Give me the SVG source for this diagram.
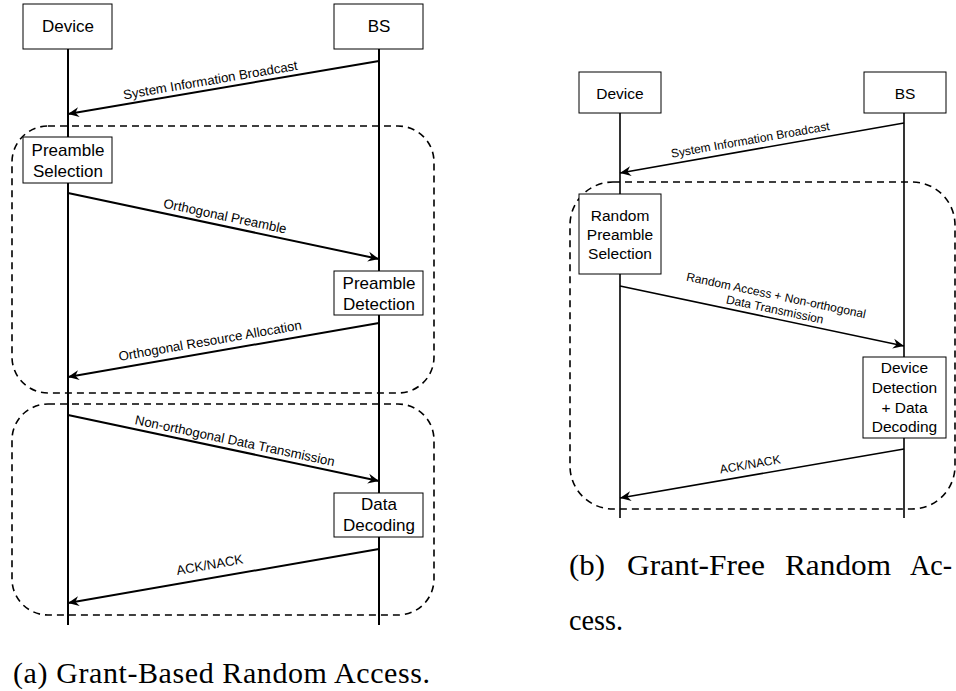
<svg xmlns="http://www.w3.org/2000/svg" width="956" height="691" viewBox="0 0 956 691">
  <style>
    .box { fill: #fff; stroke: #000; stroke-width: 1; }
    .life { stroke: #000; stroke-width: 2; fill: none; }
    .msg { stroke: #000; stroke-width: 2; fill: none; marker-end: url(#head); }
    .thin { stroke-width: 1.6; }
    .frame { fill: none; stroke: #000; stroke-width: 1.6; stroke-dasharray: 7 5; }
    .lbl { font-family: "Liberation Sans", Arial, sans-serif; fill: #000; text-anchor: middle; }
    .big { font-size: 17px; }
    .small { font-size: 15.5px; }
    .edgeA { font-size: 13.2px; }
    .edgeB { font-size: 12px; }
    .cap { font-family: "Liberation Serif", "Times New Roman", serif; font-size: 30px; fill: #000; }
  </style>
  <defs>
    <marker id="head" viewBox="-12 -6 13 12" refX="0" refY="0" markerWidth="13" markerHeight="12" markerUnits="userSpaceOnUse" orient="auto">
      <path d="M0,0 L-11,-5 L-7.5,0 L-11,5 Z" fill="#000"/>
    </marker>
  </defs>

  <!-- (a) grant-based procedure -->
  <g id="frames-a">
    <rect class="frame" x="12" y="126" width="422" height="267" rx="36" ry="36"/>
    <rect class="frame" x="12" y="404" width="422" height="211" rx="36" ry="36"/>
  </g>

  <g id="lifelines-a">
    <line class="life" x1="68" y1="49" x2="68" y2="625"/>
    <line class="life" x1="379" y1="49" x2="379" y2="625"/>
  </g>

  <g id="connectors-a">
    <line class="msg" x1="379" y1="61" x2="68" y2="114"/>
    <line class="msg" x1="68" y1="193" x2="379" y2="259"/>
    <line class="msg" x1="379" y1="323" x2="68" y2="377"/>
    <line class="msg" x1="68" y1="415" x2="379" y2="481"/>
    <line class="msg" x1="379" y1="549" x2="68" y2="603"/>
    <text class="lbl edgeA" transform="translate(212,89.5) rotate(-9.67)" y="-5">System Information Broadcast</text>
    <text class="lbl edgeA" transform="translate(223,225.9) rotate(11.98)" y="-5.5">Orthogonal Preamble</text>
    <text class="lbl edgeA" transform="translate(212,352) rotate(-9.85)" y="-7">Orthogonal Resource Allocation</text>
    <text class="lbl edgeA" transform="translate(233,450) rotate(11.98)" y="-5">Non-orthogonal Data Transmission</text>
    <text class="lbl edgeA" transform="translate(212,578) rotate(-9.85)" y="-9">ACK/NACK</text>
  </g>

  <g id="a-device">
    <rect class="box" x="23" y="4" width="89" height="45"/>
    <text class="lbl big" x="68" y="32">Device</text>
  </g>
  <g id="a-bs">
    <rect class="box" x="334" y="4" width="89" height="45"/>
    <text class="lbl big" x="379" y="32">BS</text>
  </g>
  <g id="a-preamble-selection">
    <rect class="box" x="23" y="137" width="89" height="46"/>
    <text class="lbl big" x="68" y="156">Preamble</text>
    <text class="lbl big" x="68" y="176.5">Selection</text>
  </g>
  <g id="a-preamble-detection">
    <rect class="box" x="334" y="271" width="89" height="44"/>
    <text class="lbl big" x="379" y="288.5">Preamble</text>
    <text class="lbl big" x="379" y="309.5">Detection</text>
  </g>
  <g id="a-data-decoding">
    <rect class="box" x="334" y="493" width="89" height="44"/>
    <text class="lbl big" x="379" y="510">Data</text>
    <text class="lbl big" x="379" y="530.5">Decoding</text>
  </g>

  <text class="cap" x="13" y="683" textLength="417" lengthAdjust="spacing">(a) Grant-Based Random Access.</text>

  <!-- (b) grant-free procedure -->
  <g id="frames-b">
    <rect class="frame" x="570" y="182" width="385" height="327" rx="43" ry="43"/>
  </g>

  <g id="lifelines-b">
    <line class="life thin" x1="620" y1="113" x2="620" y2="518"/>
    <line class="life thin" x1="904" y1="113" x2="904" y2="518"/>
  </g>

  <g id="connectors-b">
    <line class="msg thin" x1="904" y1="123" x2="620" y2="173"/>
    <line class="msg thin" x1="620" y1="286" x2="904" y2="346"/>
    <line class="msg thin" x1="904" y1="449" x2="620" y2="498"/>
    <text class="lbl edgeB" transform="translate(752,149.8) rotate(-9.98)" y="-6">System Information Broadcast</text>
    <text class="lbl edgeB" transform="translate(773,318.3) rotate(11.93)">
      <tspan x="0" y="-19">Random Access + Non-orthogonal</tspan>
      <tspan x="0" y="-5">Data Transmission</tspan>
    </text>
    <text class="lbl edgeB" transform="translate(752,475.2) rotate(-9.79)" y="-7">ACK/NACK</text>
  </g>

  <g id="b-device">
    <rect class="box" x="579" y="72" width="82" height="41"/>
    <text class="lbl small" x="620" y="98.5">Device</text>
  </g>
  <g id="b-bs">
    <rect class="box" x="864" y="72" width="82" height="41"/>
    <text class="lbl small" x="905" y="98.5">BS</text>
  </g>
  <g id="b-random-preamble-selection">
    <rect class="box" x="579" y="194" width="82" height="80"/>
    <text class="lbl small" x="620" y="220.7">Random</text>
    <text class="lbl small" x="620" y="240">Preamble</text>
    <text class="lbl small" x="620" y="259.3">Selection</text>
  </g>
  <g id="b-detection-decoding">
    <rect class="box" x="863" y="357" width="83" height="81"/>
    <text class="lbl small" x="904.5" y="373.3">Device</text>
    <text class="lbl small" x="904.5" y="393.3">Detection</text>
    <text class="lbl small" x="904.5" y="412.5">+ Data</text>
    <text class="lbl small" x="904.5" y="431.7">Decoding</text>
  </g>

  <g id="caption-b" class="cap">
    <text x="569" y="575" textLength="36" lengthAdjust="spacingAndGlyphs">(b)</text>
    <text x="627" y="575" textLength="138" lengthAdjust="spacingAndGlyphs">Grant-Free</text>
    <text x="785" y="575" textLength="106" lengthAdjust="spacingAndGlyphs">Random</text>
    <text x="910" y="575" textLength="42" lengthAdjust="spacingAndGlyphs">Ac-</text>
    <text x="569" y="630" textLength="54" lengthAdjust="spacingAndGlyphs">cess.</text>
  </g>
</svg>
